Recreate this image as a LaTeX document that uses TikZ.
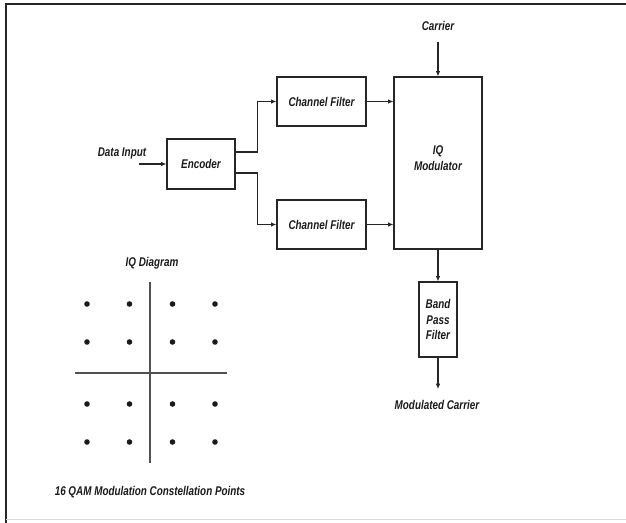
\documentclass[tikz,border=0pt]{standalone}
\usepackage{fontspec}
\setmainfont{Liberation Sans}[FakeStretch=0.78]
\usetikzlibrary{arrows.meta}
\definecolor{ink}{HTML}{1A1A1A}
\definecolor{rule}{HTML}{262626}
\tikzset{
  block/.style={draw=rule, line width=0.9pt, align=center, inner sep=0pt},
  tag/.style={align=center, inner sep=0pt},
  flow/.style={draw=rule, line width=0.9pt, -{Latex[length=4pt,width=3.5pt]}},
  qam dot/.style={fill=ink, draw=none},
}
\begin{document}
\begin{tikzpicture}[
    x=0.75pt, y=-0.75pt,
    font=\fontsize{9.5}{11.5}\selectfont\bfseries\itshape,
    text=ink
  ]
  \useasboundingbox (0,0) rectangle (626,523);
  % frame
  \draw[rule, line width=1.6pt] (6,523) -- (6,4) -- (626,4);
  \draw[black!15, line width=1.2pt] (6,519.5) -- (626,519.5);

  % modulator chain
  \node (Enc) at (201,164) [block, minimum width=51pt, minimum height=37.5pt] {Encoder};
  \node (FilterI) at (321.5,101.5) [block, minimum width=66.75pt, minimum height=36.75pt] {Channel Filter};
  \node (FilterQ) at (321.5,224.5) [block, minimum width=66.75pt, minimum height=36.75pt] {Channel Filter};
  \node (IQMod) at (438,163) [block, minimum width=66pt, minimum height=129pt,
    label={[tag, yshift=3.75pt]center:IQ\\Modulator}] {};
  \node (BPF) at (438,319.5) [block, minimum width=28.5pt, minimum height=56.25pt] {Band\\Pass\\Filter};

  \node (DataIn) at (122,153) [tag] {Data Input};
  \node (Carrier) at (438,26) [tag] {Carrier};
  \node (ModCarrier) at (437,405) [tag] {Modulated Carrier};

  \coordinate (DataTail) at (139,164);
  \coordinate (CarrierTail) at (438,42);
  \coordinate (OutHead) at (438,389);

  \draw[flow] (DataTail) -- (Enc.west);
  \draw[flow] ([yshift=9pt]Enc.east) -- ++(16.5pt,0) |- (FilterI.west);
  \draw[flow] ([yshift=-6.75pt]Enc.east) -- ++(16.5pt,0) |- (FilterQ.west);
  \draw[flow] (FilterI.east) -- (FilterI.east -| IQMod.west);
  \draw[flow] (FilterQ.east) -- (FilterQ.east -| IQMod.west);
  \draw[flow] (CarrierTail) -- (IQMod.north);
  \draw[flow] (IQMod.south) -- (BPF.north);
  \draw[flow] (BPF.south) -- (OutHead);

  % IQ diagram
  \node (IQTitle) at (152,263) [tag] {IQ Diagram};
  \coordinate (Origin) at (151,373);
  \draw[rule!80, line width=0.9pt] (150,282) -- (150,463);
  \draw[rule!80, line width=0.9pt] (75,373) -- (227,373);
  \foreach \dx in {-64,-21.5,21.5,64}
    \foreach \dy in {-69,-31,31,69}
      \fill[qam dot] ([shift={(\dx,\dy)}]Origin) circle (2.1pt);
  \node (QAMCaption) at (150,492) [tag] {16 QAM Modulation Constellation Points};
\end{tikzpicture}
\end{document}
